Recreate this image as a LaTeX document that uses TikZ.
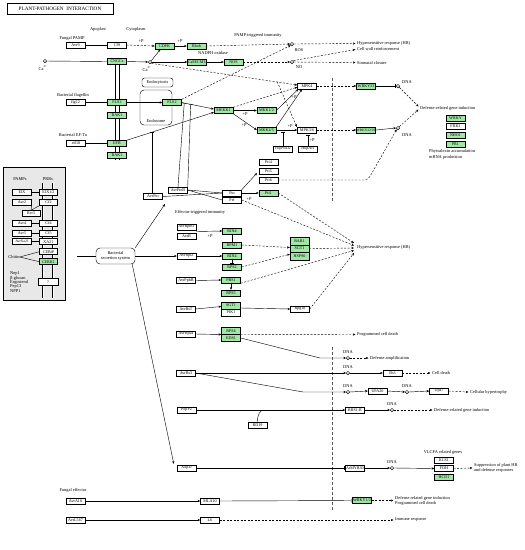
\documentclass[tikz,border=0pt]{standalone}
\usepackage{fontspec}
\setmainfont{Liberation Serif}
\usetikzlibrary{arrows.meta,calc}
\definecolor{kg}{RGB}{160,230,165}
\newcommand\kfont{\fontsize{4.4}{5}\selectfont}
\newcommand\bfont{\fontsize{4.1}{4.6}\selectfont}
\tikzset{
 base/.style={draw, line width=0.45pt, minimum width=19pt, minimum height=6pt, inner sep=0.3pt, font=\bfont},
 gb/.style={base, fill=kg},
 wb/.style={base, fill=white},
 lb/.style={inner sep=0pt, font=\kfont},
 ln/.style={line width=0.42pt},
 ar/.style={ln, -{Stealth[length=2.7pt,width=2.3pt]}},
 da/.style={ar, dash pattern=on 2pt off 1.5pt},
 dl/.style={ln, dash pattern=on 2pt off 1.5pt},
 ih/.style={ln, -{Bar[width=4pt]}},
 dn/.style={circle, draw, line width=0.42pt, minimum size=3.4pt, inner sep=0pt, fill=white},
 nuc/.style={gray!70!black, line width=0.9pt, dash pattern=on 3pt off 2pt},
}
\begin{document}
\begin{tikzpicture}[x=1pt,y=-1pt]
\useasboundingbox (0,0) rectangle (525,550);
% title
\node[draw, line width=0.45pt, minimum width=106pt, minimum height=11pt, inner sep=0pt, font=\fontsize{5.2}{6}\selectfont] (title) at (60,8.5) {PLANT-PATHOGEN\ \ INTERACTION};
% membranes
\foreach \x in {111.5,123.5} \draw[line width=0.42pt, double, double distance=1pt] (\x,22) -- (\x,548);
\draw[ln] (115.5,58) -- (115.5,160);
\draw[ln] (119.5,58) -- (119.5,160);
\draw[nuc] (332,78) -- (332,202);
\draw[nuc] (332,347) -- (332,510);
% endosome
\node[draw, rounded corners=2.5pt, ln, minimum width=31pt, minimum height=9pt, inner sep=0pt, font=\kfont] (endoc) at (157.5,82.5) {Endocytosis};
\draw[ln, rounded corners=4pt] (140,90) rectangle (172,125);
\node[lb] (endos) at (156,120.5) {Endosome};
% top labels
\node[lb] (apo) at (98,29) {Apoplast};
\node[lb] (cyto) at (136,29) {Cytoplasm};
\node[lb] (fpamp) at (72,38) {Fungal PAMP};
\node[wb] (avr9) at (75.5,45) {Avr9};
\node[wb] (cf9) at (117,45) {Cf9};
\node[gb] (cdpk) at (164.5,46) {CDPK};
\node[lb] (p1) at (141,41) {+P};
\node[dn] (ca1) at (45,61) {};
\node[lb] (ca1l) at (43,68) {Ca\textsuperscript{2+}};
\node[gb] (cngc) at (117,61.5) {CNGCs};
\node[dn] (ca2) at (150,62) {};
\node[lb] (ca2l) at (147,69) {Ca\textsuperscript{2+}};
\node[gb] (rboh) at (196.5,46) {Rboh};
\node[lb] (p2) at (180,41) {+P};
\node[lb] (nadph) at (213,53) {NADPH oxidase};
\node[lb] (pti) at (258,35) {PAMP-triggered immunity};
\node[gb] (cam) at (197,62) {CaM/CML};
\node[gb] (nos) at (233.5,62) {NOS};
\node[dn] (ros) at (292,44) {};
\node[lb] (rosl) at (299,50) {ROS};
\node[dn] (no) at (292,62) {};
\node[lb] (nol) at (299,67) {NO};
\node[lb,anchor=west] (hr1) at (357,43) {Hypersensitive response (HR)};
\node[lb,anchor=west] (cwr) at (357,49) {Cell wall reinforcement};
\node[lb,anchor=west] (stc) at (357,62.5) {Stomatal closure};
% receptors
\node[lb] (flagl) at (73,95) {Bacterial flagellin};
\node[wb] (flg22) at (75.5,102.5) {flg22};
\node[gb] (fls2a) at (117,102.5) {FLS2};
\node[gb] (bak1a) at (117,115.5) {BAK1};
\node[gb] (fls2b) at (172,102.5) {FLS2};
\node[lb] (eftul) at (73,135) {Bacterial EF-Tu};
\node[wb] (elf18) at (76,143.5) {elf18};
\node[gb] (efr) at (117,143.5) {EFR};
\node[gb] (bak1b) at (117,155) {BAK1};
% MAPK
\node[gb] (mekk1) at (223.5,110.5) {MEKK1};
\node[gb] (mkk12) at (266.5,110.5) {MKK1/2};
\node[gb] (mkk45) at (266.5,130) {MKK4/5};
\node[wb] (mpk4) at (307,86) {MPK4};
\node[wb] (mpk36) at (307,130) {MPK3/6};
\node[wb,font=\fontsize{3.6}{4}\selectfont] (hopd) at (283,149) {HopPtoD2};
\node[wb] (hopai) at (308,149) {HopAI1};
\node[lb] (p3) at (245,114.5) {+P};
\node[lb] (p4) at (244,125) {+P};
\node[lb] (p5) at (290,126.5) {+P};
\node[lb] (p6) at (294,97) {+P};
\node[lb] (p7) at (312,140) {+P};
\node[gb] (wrky33) at (366,86) {WRKY33};
\node[gb,font=\fontsize{3.5}{4}\selectfont] (wrky2229) at (366,130) {WRKY22/29};
\node[dn] (dna1) at (398,86) {};
\node[lb] (dna1l) at (407,82) {DNA};
\node[dn] (dna2) at (398,128) {};
\node[lb] (dna2l) at (407,135) {DNA};
\node[lb,anchor=west] (dgi1) at (420,108) {Defense-related gene induction};
\node[gb] (wrky) at (455.5,118) {WRKY};
\node[wb] (frk1) at (455.5,126.5) {FRK1};
\node[gb] (nho1) at (455.5,135) {NHO1};
\node[gb] (pr1) at (455.5,144) {PR1};
\node[lb,anchor=west] (phy1) at (429,151) {Phytoalexin accumulation};
\node[lb,anchor=west] (phy2) at (429,157) {mRNA production};
% left panel
\draw[ln, fill=gray!18] (3,167) rectangle (65,300);
\node[lb] (pamps) at (20,179) {PAMPs};
\node[lb] (prrs) at (48,179) {PRRs};
\foreach \x in {43,53} \draw[line width=0.42pt, double, double distance=0.8pt] (\x,183) -- (\x,298);
\node[wb] (eix) at (22,192.5) {EIX};
\node[wb,minimum width=18pt] (eixr) at (48.5,192.5) {EIX1/2};
\node[wb] (avr2) at (22,202.5) {Avr2};
\node[wb,minimum width=18pt] (cf2) at (48.5,202.5) {Cf2};
\node[wb,minimum width=18pt] (rcr3) at (31,213.5) {Rcr3};
\node[wb] (avr4) at (22,223.5) {Avr4};
\node[wb,minimum width=18pt] (cf4) at (48.5,223.5) {Cf4};
\node[wb] (avr5) at (22,233.3) {Avr5};
\node[wb,minimum width=18pt] (cf5) at (48.5,233.3) {Cf5};
\node[wb,font=\fontsize{3.7}{4}\selectfont] (avrxa) at (22,241.7) {AvrXa21};
\node[wb,minimum width=18pt] (xa21) at (48.5,241.7) {XA21};
\node[wb,minimum width=18pt] (cebip) at (48.5,251.7) {CEBiP};
\node[gb,minimum width=18pt] (cerk1) at (48.5,261.7) {CERK1};
\node[lb] (chitin) at (14,257) {Chitin};
\node[wb,minimum width=20pt,minimum height=7pt] (qbox) at (48,282) {?};
\node[lb,anchor=west] (nep) at (10,273.5) {Nep1};
\node[lb,anchor=west] (bglu) at (10,278) {β-glucan};
\node[lb,anchor=west] (ergo) at (10,282.5) {Ergosterol};
\node[lb,anchor=west] (pep) at (10,287) {Pep13};
\node[lb,anchor=west] (npp) at (10,291.5) {NPP1};
\draw[ln] (eix) -- (eixr);
\draw[ln] (avr2.south east) -- (rcr3.north);
\draw[ln] (cf2.south west) -- (rcr3.north);
\draw[ln] (avr4) -- (cf4);
\draw[ln] (avr5) -- (cf5);
\draw[ln] (avrxa) -- (xa21);
\draw[ln] (chitin.east) -- (cebip.west);
\draw[ln] (chitin.east) -- (cerk1.west);
% secretion system
\node[draw, rounded corners=4pt, ln, minimum width=39pt, minimum height=16pt, inner sep=0pt, fill=white, font=\kfont, align=center] (tss) at (115.5,256) {Bacterial\\secretion system};
\coordinate (tssin) at (77,256);
\draw[ln] (tssin) -- (tss.west);
% effectors
\node[wb] (avrpto) at (153,196.5) {AvrPto};
\node[wb] (avrptob) at (178,190) {AvrPtoB};
\node[wb] (pto) at (232,193) {Pto};
\node[wb] (prf) at (232,200) {Prf};
\node[wb] (pti4) at (268.5,162) {Pti4};
\node[wb] (pti5) at (268.5,171) {Pti5};
\node[wb] (pti6) at (268.5,180) {Pti6};
\node[gb] (pti1) at (268.5,193) {Pti1};
\node[lb] (p8) at (249,199.5) {+P};
\node[lb,anchor=west] (eti) at (175,212) {Effector-triggered immunity};
\node[wb] (avrrpm1) at (186.5,227) {AvrRpm1};
\node[wb] (avrb) at (186.5,236) {AvrB};
\node[gb] (rin4a) at (232,231) {RIN4};
\node[gb] (rpm1) at (232,245) {RPM1};
\node[lb] (p9) at (210,236) {+P};
\node[wb] (avrrpt2) at (186.5,256) {AvrRpt2};
\node[gb] (rin4b) at (232,256) {RIN4};
\node[gb] (rps2) at (232,267) {RPS2};
\node[gb,minimum height=7.5pt] (rar1) at (299.5,241) {RAR1};
\node[gb,minimum height=7.5pt] (sgt1a) at (299.5,248.5) {SGT1};
\node[gb,minimum height=7.5pt] (hsp90) at (299.5,256) {HSP90};
\node[lb,anchor=west] (hr2) at (357,247.5) {Hypersensitive response (HR)};
\node[wb] (avrpphb) at (186,280.5) {AvrPphB};
\node[gb] (pbs1) at (231,280) {PBS1};
\node[gb] (rps5) at (231,293) {RPS5};
\node[wb] (avrbst) at (186,309) {AvrBsT};
\node[gb,minimum height=7pt] (sgt1b) at (231,305.5) {SGT1};
\node[wb,minimum height=7pt] (pik1) at (231,312.5) {PIK1};
\node[wb] (rpg) at (300,309) {Rpg1b};
\node[wb] (avrrps4) at (186,334) {AvrRps4};
\node[gb,minimum height=7pt] (rps4) at (231,331) {RPS4};
\node[gb,minimum height=7pt] (eds1) at (231,338) {EDS1};
\node[lb,anchor=west] (pcd1) at (357,334.5) {Programmed cell death};
\node[dn] (dna3) at (348,358) {};
\node[lb] (dna3l) at (348,352.5) {DNA};
\node[lb,anchor=west] (damp) at (370,358) {Defense amplification};
\node[wb] (avrbs3) at (186,373) {AvrBs3};
\node[dn] (dna4) at (348,373) {};
\node[lb] (dna4l) at (348,367.5) {DNA};
\node[wb] (bs3) at (392.5,373) {Bs3};
\node[lb,anchor=west] (cdeath) at (432,373) {Cell death};
\node[dn] (dna5) at (348,392) {};
\node[lb] (dna5l) at (348,386.5) {DNA};
\node[wb] (upa20) at (377.5,391) {UPA20};
\node[dn] (dna6) at (407,392) {};
\node[lb] (dna6l) at (407,386.5) {DNA};
\node[wb] (upa7) at (439,391) {Upa7};
\node[lb,anchor=west] (hyper) at (470,392) {Cellular hypertrophy};
\node[wb] (popp2) at (186.5,410) {PopP2};
\node[wb] (rrs1) at (355,410) {RRS1-R};
\node[wb] (rd19) at (257.5,425) {RD19};
\node[dn] (dna7) at (392,410) {};
\node[lb] (dna7l) at (392,404.5) {DNA};
\node[lb,anchor=west] (dgi2) at (434,410) {Defense-related gene induction};
\node[wb] (xopd) at (186.5,468) {XopD};
\node[wb] (myb30) at (355,468) {AtMYB30};
\node[dn] (dna8) at (392,468) {};
\node[lb] (dna8l) at (392,462.5) {DNA};
\node[wb] (kcs1) at (444,460) {KCS1};
\node[wb] (fdh) at (444,468.5) {FDH};
\node[gb] (hcd1) at (444,477) {HCD1};
\node[lb] (vlcfa) at (443,452.5) {VLCFA related genes};
\node[lb,anchor=west] (sup1) at (474,465.5) {Suppression of plant HR};
\node[lb,anchor=west] (sup2) at (474,470.5) {and defense responses};
\node[lb] (feff) at (73,490.5) {Fungal effector};
\node[wb] (avra10) at (75.5,501) {AvrA10};
\node[wb] (mla10) at (210,501) {MLA10};
\node[gb] (wrky12) at (362,500.5) {WRKY1/2};
\node[lb,anchor=west] (dgi3) at (395,498) {Defense related gene induction};
\node[lb,anchor=west] (pcd2) at (395,503.5) {Programmed cell death};
\node[wb] (avrl) at (75.5,520) {AvrL567};
\node[wb] (l6) at (210,520) {L6};
\node[lb,anchor=west] (immr) at (395,520) {Immune response};
% ---- connectors top
\draw[ln] (avr9) -- (cf9);
\draw[da] (cf9.east) -- (cdpk.west);
\draw[ln] (ca1) -- (cngc.west);
\draw[ar] (cngc.east) -- (ca2.west);
\draw[ar] (ca2.north east) -- ($(cdpk.south)+(-4,0)$);
\draw[ar] (ca2.east) -- (cam.west);
\coordinate (br) at ($(ca2)!0.864!($(mpk4.west)+(0,-1)$)$);
\draw[da] (ca2.south east) -- ($(mpk4.west)+(0,-1)$);
\draw[da] (br) -- ($(mpk36.north west)+(-0.5,0)$);
\draw[ar] (cdpk.east) -- (rboh.west);
\draw[da] (rboh.east) -- (ros.west);
\draw[ar] (cam.east) -- (nos.west);
\draw[da] (nos.east) -- (no.west);
\draw[da] (ros.east) -- ($(hr1.west)+(-1.5,0.5)$);
\draw[da] (no.north east) -- ($(cwr.west)+(-1.5,0.5)$);
\draw[da] (no.east) -- ($(stc.west)+(-1.5,0)$);
\draw[ln] (flg22) -- (fls2a);
\draw[ar] (fls2a.east) -- (fls2b.west);
\draw[da] (fls2b.north east) -- (ros.south west);
\coordinate (mk1a) at ($(mekk1.west)+(0,-1.5)$);
\coordinate (mk1b) at ($(mekk1.west)+(0,1.8)$);
\draw[ar] (fls2b.east) -- (mk1a);
\draw[ln] (elf18) -- (efr);
\draw[ar] (efr.north east) -- (mk1b);
\draw[ar] (mekk1.east) -- (mkk12.west);
\draw[ar] (mekk1.south east) -- (mkk45.west);
\draw[da] (mekk1.north east) -- ($(mpk4.west)+(0,1.2)$);
\draw[ar] (mkk12.east) -- ($(mpk4.south west)+(1,0)$);
\draw[ar] (mkk45.north east) -- ($(mpk4.south)+(-5,0)$);
\draw[ar] (mkk45.east) -- (mpk36.west);
\draw[ih] (hopd.north) -- (283,131.5);
\draw[ih] (hopai.north) -- ($(mpk36.south)+(1,1.5)$);
\draw[da] (mpk4.east) -- (wrky33.west);
\draw[da] (mpk36.east) -- (wrky2229.west);
\draw[ih, shorten >=0.8pt] (wrky33.east) -- (dna1.west);
\draw[ar] (wrky2229.east) -- (dna2.west);
\draw[da] (dna1.south east) -- ($(dgi1.west)+(-1.5,-1.5)$);
\draw[da] (dna2.north east) -- ($(dgi1.west)+(-1.5,1.5)$);
\draw[da, rounded corners=4pt] (pti6.east) -- (368,180) -- (dna2.south west);
% inhibition by AvrPto / AvrPtoB
\coordinate (t1) at ($(efr.north east)!0.29!(mk1b)$);
\draw[ih] (avrpto.north -| t1) -- (t1);
\coordinate (t2) at ($(fls2b.east)!0.08!(mk1a)$);
\coordinate (t3) at ($(fls2b.east)!0.28!(mk1a)$);
\draw[ih] (avrptob.north) -- (t2);
\draw[ih] (avrptob.north east) -- (t3);
% secretion system
\draw[ar] (tss.north east) -- (165,204);
\draw[ar] (tss.east) -- (avrrpt2.west);
\draw[ar] ($(tss.south east)+(-3,0)$) -- ($(xopd.north west)+(-3,-1)$);
% Pto
\draw[ln] (avrptob.east) -- (pto.west);
\draw[ln] (avrptob.east) -- (prf.west);
\draw[ln] (avrpto.east) -- (pto.west);
\draw[ar] (pto.north east) -- (257,173);
\draw[ar] (pto.east) -- (pti1.west);
\draw[da] (pti1.east) -- (354,243);
\draw[da] (prf.east) -- (354,245.5);
% RIN4
\coordinate (rpmb) at ($(avrrpm1.south east)!0.5!(avrb.north east)$);
\draw[ar] (rpmb) -- (rin4a.west);
\draw[ln] (rin4a.south) -- (rpm1.north);
\draw[ar] (avrrpt2.east) -- (rin4b.west);
\draw[ih] (rin4b.south) -- (rps2.north);
\draw[da] (rpm1.east) -- ($(sgt1a.west)+(0,-1)$);
\draw[da] (rps2.east) -- ($(sgt1a.south west)!0.5!(hsp90.west)$);
\draw[da] (sgt1a.east) -- (354,248);
% PBS1, SGT1
\draw[ar] (avrpphb.east) -- (pbs1.west);
\draw[ar] (pbs1.south) -- (rps5.north);
\draw[da] (pbs1.south east) -- (354,250.5);
\draw[ar] (avrbst.east) -- ($(sgt1b.west)+(0,1)$);
\draw[ar] ($(sgt1b.east)+(0,2.5)$) -- (rpg.west);
\draw[da] (rpg.east) -- (354,253);
% RPS4
\draw[ar] (avrrps4.east) -- ($(rps4.south west)!0.5!(eds1.north west)$);
\draw[da] ($(rps4.south east)+(0,0)$) -- ($(pcd1.west)+(-1.5,0)$);
\draw[ar] (eds1.east) -- (320,358) -- (dna3.west);
\draw[da] (dna3.east) -- ($(damp.west)+(-1.5,0)$);
% AvrBs3
\draw[ar] (avrbs3.east) -- (dna4.west);
\draw[ar] (dna4.east) -- (bs3.west);
\draw[da] (bs3.east) -- ($(cdeath.west)+(-1.5,0)$);
\draw[ar] (avrbs3.east) -- (303,392) -- (dna5.west);
\draw[ar] (dna5.east) -- (upa20.west);
\draw[ar] (upa20.east) -- (dna6.west);
\draw[ar] (dna6.east) -- (upa7.west);
\draw[da] (upa7.east) -- ($(hyper.west)+(-1.5,0)$);
% PopP2
\draw[ar] (popp2.east) -- (rrs1.west);
\draw[ln] (rd19.north) .. controls (257.5,414) and (260,411) .. (263,410);
\draw[ar] (rrs1.east) -- (dna7.west);
\draw[da] (dna7.east) -- ($(dgi2.west)+(-1.5,0)$);
% XopD
\draw[ih, shorten >=0.8pt] (xopd.east) -- (myb30.west);
\draw[ar] (myb30.east) -- (dna8.west);
\draw[ar] (dna8.east) -- (fdh.west);
\draw[da] (fdh.east) -- ($(sup1.west)+(-1.5,2.5)$);
% fungal effectors
\draw[ar] (avra10.east) -- (mla10.west);
\draw[ih, shorten >=0.8pt] (mla10.east) -- (wrky12.west);
\draw[da] (wrky12.east) -- ($(dgi3.west)+(-1.5,2.5)$);
\draw[ar] (avrl.east) -- (l6.west);
\draw[da] (l6.east) -- ($(immr.west)+(-1.5,0)$);
\end{tikzpicture}
\end{document}
